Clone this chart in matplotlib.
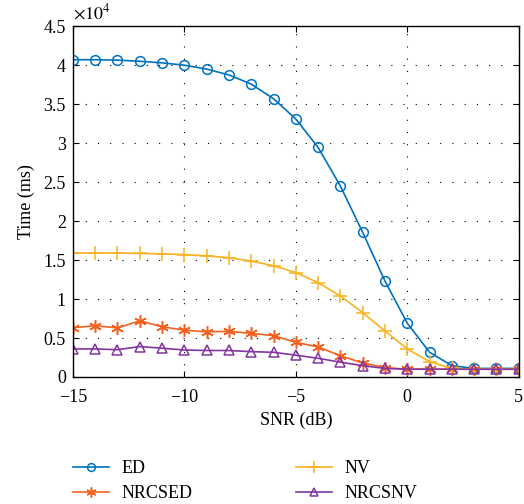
import numpy as np
import matplotlib.pyplot as plt
from matplotlib.ticker import FuncFormatter

plt.rcParams["font.family"] = ["Liberation Serif", "DejaVu Serif"]
plt.rcParams["mathtext.fontset"] = "stix"

# SNR sweep and detection time (ms) per method
snr = [-15, -14, -13, -12, -11, -10, -9, -8, -7, -6, -5, -4, -3, -2, -1, 0, 1, 2, 3, 4, 5]
t_ed = [40700, 40700, 40650, 40500, 40300, 40000, 39500, 38750, 37570, 35700, 33100,
        29450, 24500, 18550, 12300, 6900, 3170, 1450, 1100, 1100, 1100]
t_nv = [15900, 15900, 15900, 15850, 15800, 15700, 15550, 15300, 14870, 14270, 13400,
        12100, 10400, 8250, 5900, 3600, 1960, 1100, 1000, 1000, 1000]
t_nrcsed = [6320, 6580, 6300, 7200, 6450, 6000, 5800, 5850, 5600, 5300, 4450,
            3850, 2730, 1800, 1200, 1000, 1000, 1000, 1000, 1000, 1000]
t_nrcsnv = [3600, 3600, 3500, 3900, 3700, 3460, 3400, 3400, 3250, 3170, 2800,
            2400, 1900, 1450, 1100, 1000, 1000, 1000, 1000, 1000, 1000]

fig = plt.figure(figsize=(5.24, 5.04), dpi=100)
ax = fig.add_axes([0.139, 0.252, 0.851, 0.696])

asterisk = (6, 2, 0)
ax.plot(snr, t_ed, color="#0072BD", marker="o", mfc="none", ms=7, lw=1.2, mew=1.1, label="ED")
ax.plot(snr, t_nrcsed, color="#F4601E", marker=asterisk, ms=9, lw=1.2, mew=1.1, label="NRCSED")
ax.plot(snr, t_nv, color="#F8B320", marker="+", ms=10, lw=1.2, mew=1.1, label="NV")
ax.plot(snr, t_nrcsnv, color="#8136A0", marker="^", mfc="none", ms=7.5, lw=1.2, mew=1.1, label="NRCSNV")

ax.set_xlim(-15, 5)
ax.set_ylim(0, 45000)
ax.set_xticks([-15, -10, -5, 0, 5])
ax.set_yticks(np.arange(0, 45001, 5000))
ax.yaxis.set_major_formatter(FuncFormatter(lambda v, p: "%g" % (v / 1e4)))
ax.text(0.0, 1.01, r"$\times10^4$", transform=ax.transAxes, fontsize=13,
        ha="left", va="bottom")

ax.grid(True, color="black", linestyle=(0, (1, 10)), linewidth=0.8)
ax.tick_params(direction="in", top=True, right=True, labelsize=13, length=4)
ax.tick_params(axis="x", pad=9)
ax.tick_params(axis="y", pad=5)
for s in ax.spines.values():
    s.set_linewidth(1.0)

ax.set_xlabel("SNR (dB)", fontsize=13, labelpad=4)
ax.set_ylabel("Time (ms)", fontsize=13, labelpad=6)

ax.legend(loc="upper left", bbox_to_anchor=(-0.036, -0.19), ncol=2, frameon=False,
          fontsize=13, columnspacing=5.7, handlelength=2.0, handletextpad=0.7,
          labelspacing=0.45, markerscale=0.8)

fig.savefig("out.png", dpi=100)
